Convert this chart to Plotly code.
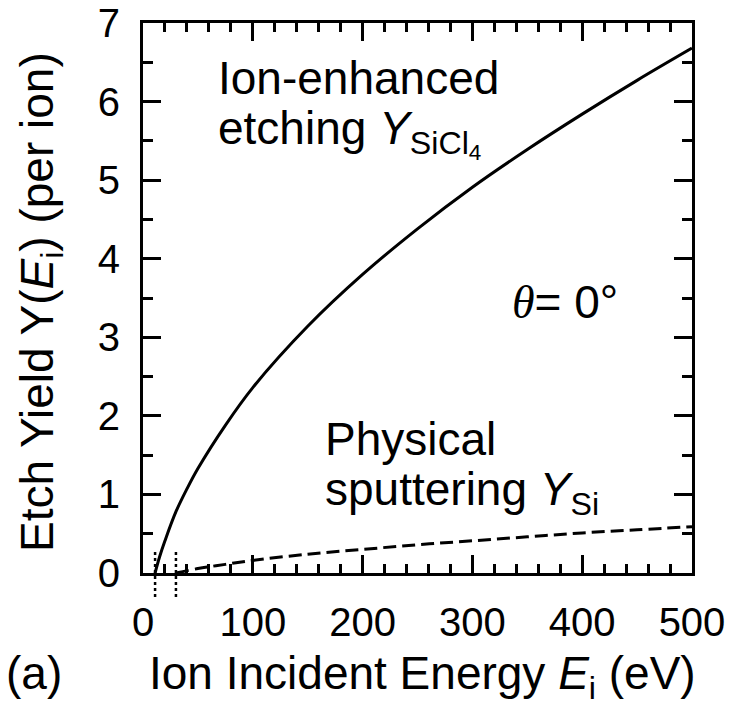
import plotly.graph_objects as go

# Ion-enhanced etching yield Y_SiCl4 (per ion) vs ion energy (eV)
energy_ion = [11, 15, 20, 30, 40, 50, 75, 100, 150, 200, 250, 300, 350, 400, 450, 500]
yield_ion = [0, 0.20, 0.41, 0.78, 1.07, 1.33, 1.88, 2.36, 3.14, 3.80, 4.38, 4.91, 5.39, 5.84, 6.27, 6.68]

# Physical sputtering yield Y_Si (per ion) vs ion energy (eV)
energy_sput = [30, 50, 75, 100, 150, 200, 250, 300, 350, 400, 450, 500]
yield_sput = [0, 0.056, 0.11, 0.16, 0.24, 0.30, 0.36, 0.41, 0.46, 0.51, 0.55, 0.59]

# threshold energies (eV), marked with dotted lines
thresholds = [11, 30]

x_ticks = [0, 100, 200, 300, 400, 500]
y_ticks = [0, 1, 2, 3, 4, 5, 6, 7]

FONT = "Liberation Sans, Arial, sans-serif"
BLACK = "#000000"

W, H = 731, 709
ML, MR, MT, MB = 143, 39, 23, 136
PW, PH = W - ML - MR, H - MT - MB


def fx(px):
    """figure pixel column -> paper x (plot-area fraction)"""
    return (px - ML) / PW


def fy(py):
    """figure pixel row -> paper y (plot-area fraction)"""
    return (H - MB - py) / PH


fig = go.Figure()
fig.add_trace(go.Scatter(x=energy_ion, y=yield_ion, mode="lines",
                         line=dict(color=BLACK, width=3, shape="spline", smoothing=1.0),
                         showlegend=False))
fig.add_trace(go.Scatter(x=energy_sput, y=yield_sput, mode="lines",
                         line=dict(color=BLACK, width=3, dash="13px,6px", shape="spline"),
                         showlegend=False))

for e in thresholds:
    fig.add_shape(type="line", xref="x", yref="paper", x0=e, x1=e, y0=fy(597), y1=fy(549),
                  line=dict(color=BLACK, width=2.5, dash="dot"))

axis_common = dict(
    showline=True, linecolor=BLACK, linewidth=3, mirror="allticks",
    ticks="inside", ticklen=18, tickwidth=3, tickcolor=BLACK,
    showgrid=False, zeroline=False,
    tickfont=dict(family=FONT, size=40, color=BLACK),
)
fig.update_xaxes(range=[0, 500], tickvals=x_ticks, ticklabelstandoff=12,
                 minor=dict(dtick=20, ticks="inside", ticklen=9, tickwidth=2.5, tickcolor=BLACK),
                 **axis_common)
fig.update_yaxes(range=[0, 7], tickvals=y_ticks, ticklabelstandoff=12,
                 minor=dict(dtick=0.5, ticks="inside", ticklen=10, tickwidth=2.5, tickcolor=BLACK),
                 **axis_common)

SIZE = 46
ASC = 0.905 * SIZE  # ascent above the baseline
ann_font = dict(family=FONT, size=SIZE, color=BLACK)
annotations = [
    dict(text="Ion-enhanced", x=fx(216), y=fy(92 - ASC), xanchor="left", yanchor="top"),
    dict(text="etching <i>Y</i><sub>SiCl<sub>4</sub></sub>",
         x=fx(216), y=fy(142 - ASC), xanchor="left", yanchor="top"),
    dict(text="<span style='font-family:Liberation Serif'><i>θ</i></span>= 0°",
         x=fx(510), y=fy(316 - ASC), xanchor="left", yanchor="top"),
    dict(text="Physical", x=fx(323), y=fy(453 - ASC), xanchor="left", yanchor="top"),
    dict(text="sputtering <i>Y</i><sub>Si</sub>",
         x=fx(323), y=fy(503 - ASC), xanchor="left", yanchor="top"),
    dict(text="Ion Incident Energy <i>E</i><sub>i</sub> (eV)",
         x=fx(422), y=fy(687 - ASC), xanchor="center", yanchor="top"),
    dict(text="(a)", x=fx(4), y=fy(687 - ASC), xanchor="left", yanchor="top"),
    dict(text="Etch Yield Y(<i>E</i><sub>i</sub>) (per ion)",
         x=fx(40), y=fy(302), xanchor="center", yanchor="middle", textangle=-90),
]
for a in annotations:
    fig.add_annotation(xref="paper", yref="paper", showarrow=False, font=ann_font,
                       align="left", **a)

fig.update_layout(
    width=W, height=H,
    margin=dict(l=ML, r=MR, t=MT, b=MB, autoexpand=False),
    paper_bgcolor="white", plot_bgcolor="white",
    font=dict(family=FONT, color=BLACK),
)

fig.write_html("out.html")
